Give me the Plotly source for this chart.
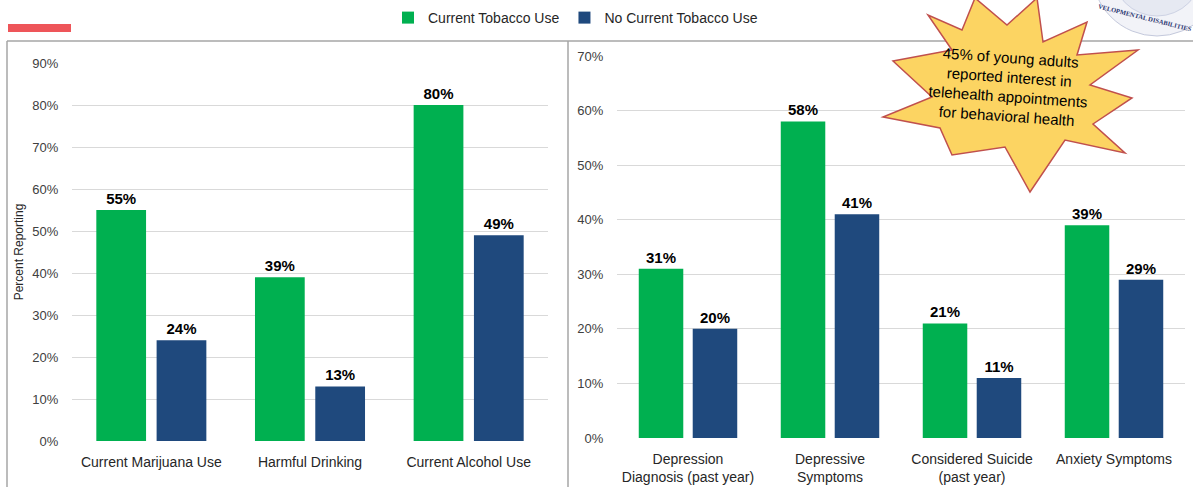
import plotly.graph_objects as go

W, H = 1193, 487

# ---- data ----
left_categories = ["Current Marijuana Use", "Harmful Drinking", "Current Alcohol Use"]
left_tobacco = [55, 39, 80]
left_no_tobacco = [24, 13, 49]

right_categories = ["Depression<br>Diagnosis (past year)", "Depressive<br>Symptoms",
                    "Considered Suicide<br>(past year)", "Anxiety Symptoms"]
right_tobacco = [31, 58, 21, 39]
right_no_tobacco = [20, 41, 11, 29]

series_names = ["Current Tobacco Use", "No Current Tobacco Use"]
left_ticks = [0, 10, 20, 30, 40, 50, 60, 70, 80, 90]
right_ticks = [0, 10, 20, 30, 40, 50, 60, 70]

GREEN = "#00B050"
BLUE = "#1F497D"
FONT = "Liberation Sans, Arial, sans-serif"


def fx(x):
    return x / W


def fy(y):
    return 1 - y / H


def pct(values):
    return [f"{v}%" for v in values]


fig = go.Figure()

label_font = dict(family=FONT, size=15, color="#000000")

fig.add_trace(go.Bar(x=left_categories, y=left_tobacco, name=series_names[0],
                     marker_color=GREEN, xaxis="x", yaxis="y", text=pct(left_tobacco),
                     texttemplate="<b>%{text}</b>", textposition="outside",
                     textfont=label_font, cliponaxis=False, legendgroup="a"))
fig.add_trace(go.Bar(x=left_categories, y=left_no_tobacco, name=series_names[1],
                     marker_color=BLUE, xaxis="x", yaxis="y", text=pct(left_no_tobacco),
                     texttemplate="<b>%{text}</b>", textposition="outside",
                     textfont=label_font, cliponaxis=False, legendgroup="b"))
fig.add_trace(go.Bar(x=right_categories, y=right_tobacco, name=series_names[0],
                     marker_color=GREEN, xaxis="x2", yaxis="y2", showlegend=False,
                     text=pct(right_tobacco),
                     texttemplate="<b>%{text}</b>", textposition="outside",
                     textfont=label_font, cliponaxis=False, legendgroup="a"))
fig.add_trace(go.Bar(x=right_categories, y=right_no_tobacco, name=series_names[1],
                     marker_color=BLUE, xaxis="x2", yaxis="y2", showlegend=False,
                     text=pct(right_no_tobacco),
                     texttemplate="<b>%{text}</b>", textposition="outside",
                     textfont=label_font, cliponaxis=False, legendgroup="b"))

fig.update_traces(marker_line_width=0)

tick_font = dict(family=FONT, size=13, color="#404040")
cat_font = dict(family=FONT, size=14, color="#262626")

yaxis_common = dict(showgrid=True, gridcolor="#d9d9d9", gridwidth=1, zeroline=False,
                    showline=False, ticks="outside", ticklen=10, automargin=False,
                    tickcolor="rgba(0,0,0,0)", tickfont=tick_font)
xaxis_common = dict(showgrid=False, showline=False, zeroline=False, ticks="outside",
                    ticklen=8, tickcolor="rgba(0,0,0,0)", tickfont=cat_font,
                    automargin=False)

fig.update_layout(
    template="none",
    width=W, height=H,
    margin=dict(l=0, r=0, t=0, b=0, pad=0, autoexpand=False),
    paper_bgcolor="white", plot_bgcolor="white",
    barmode="group", bargap=0.24, bargroupgap=0.175,
    font=dict(family=FONT),
    xaxis=dict(domain=[fx(72), fx(548)], anchor="y", **xaxis_common),
    yaxis=dict(domain=[fy(441), fy(63)], range=[0, 90], tickvals=left_ticks,
               ticktext=pct(left_ticks), anchor="x",
               title=dict(text="Percent Reporting", standoff=6,
                          font=dict(family=FONT, size=12, color="#262626")),
               **yaxis_common),
    xaxis2=dict(domain=[fx(617), fx(1185)], anchor="y2", **xaxis_common),
    yaxis2=dict(domain=[fy(438), fy(56)], range=[0, 70], tickvals=right_ticks,
                ticktext=pct(right_ticks), anchor="x2", **yaxis_common),
    legend=dict(orientation="h", x=fx(388), xanchor="left", y=fy(2), yanchor="top",
                font=dict(family=FONT, size=14, color="#262626"),
                bgcolor="rgba(0,0,0,0)", traceorder="normal"),
    showlegend=True,
)

shapes = []
line_col = "#a6a6a6"
# panel borders
shapes.append(dict(type="line", xref="paper", yref="paper", x0=fx(7), x1=fx(1193),
                   y0=fy(41), y1=fy(41), line=dict(color=line_col, width=1.5)))
shapes.append(dict(type="line", xref="paper", yref="paper", x0=fx(7), x1=fx(7),
                   y0=fy(41), y1=fy(487), line=dict(color=line_col, width=1.5)))
shapes.append(dict(type="line", xref="paper", yref="paper", x0=fx(568), x1=fx(568),
                   y0=fy(41), y1=fy(487), line=dict(color=line_col, width=1.5)))
# red accent bar
shapes.append(dict(type="rect", xref="paper", yref="paper", x0=fx(8), x1=fx(71),
                   y0=fy(32), y1=fy(24), fillcolor="#EE5559", line=dict(width=0)))

# partial seal (logo) in top-right corner
shapes.append(dict(type="circle", xref="paper", yref="paper",
                   x0=fx(1092), x1=fx(1222), y0=fy(36), y1=fy(-94),
                   fillcolor="#f2f3f8", line=dict(color="#c4c9dc", width=1)))
shapes.append(dict(type="circle", xref="paper", yref="paper",
                   x0=fx(1112), x1=fx(1202), y0=fy(16), y1=fy(-74),
                   fillcolor="#e6e9f2", line=dict(color="#cdd2e4", width=1)))

# starburst callout
star_pts = [(975, -2), (1007, 25), (1037, -2), (1043, 42), (1087, 22), (1077, 55),
            (1138, 50), (1090, 85), (1132, 98), (1093, 124), (1125, 153), (1065, 140),
            (1030, 192), (1005, 147), (952, 155), (940, 128), (883, 117), (932, 97),
            (893, 61), (952, 50), (928, 15), (962, 30)]
path = "M " + " L ".join(f"{fx(x):.5f},{fy(y):.5f}" for x, y in star_pts) + " Z"
shapes.append(dict(type="path", xref="paper", yref="paper", path=path,
                   fillcolor="#FCD462", line=dict(color="#C0504D", width=1.5)))

fig.update_layout(shapes=shapes)

fig.add_annotation(xref="paper", yref="paper", x=fx(1145), y=fy(17),
                   xanchor="center", yanchor="middle",
                   text="<b>VELOPMENTAL DISABILITIES</b>", showarrow=False, textangle=14,
                   font=dict(family="Liberation Serif, serif", size=6.5, color="#2a3570"))

fig.add_annotation(xref="paper", yref="paper", x=fx(1008), y=fy(87),
                   xanchor="center", yanchor="middle",
                   text="45% of young adults<br>reported interest in<br>telehealth appointments<br>for behavioral health",
                   showarrow=False, textangle=4, align="center",
                   font=dict(family=FONT, size=15, color="#000000"))

fig.write_html("out.html")
